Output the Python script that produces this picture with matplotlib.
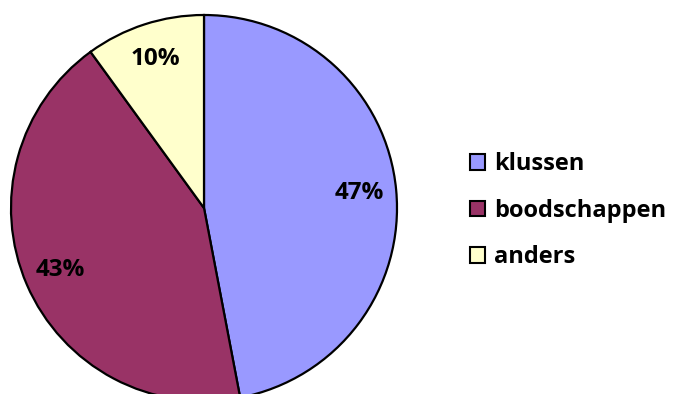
import matplotlib
matplotlib.use('Agg')
import matplotlib.pyplot as plt

labels = ['klussen', 'boodschappen', 'anders']
shares = [47, 43, 10]
colors = ['#9999FF', '#993366', '#FFFFCC']

plt.rcParams['font.family'] = ['Open Sans', 'DejaVu Sans']

fig = plt.figure(figsize=(6.76, 3.94), dpi=100)
ax = fig.add_axes([0, 0, 1, 1])
ax.set_xlim(0, 676)
ax.set_ylim(0, 394)
ax.set_aspect('equal')
ax.axis('off')

wedges, texts, autotexts = ax.pie(
    shares, colors=colors, startangle=90, counterclock=False,
    center=(204, 186), radius=193, autopct='%d%%', pctdistance=0.81,
    wedgeprops=dict(edgecolor='black', linewidth=1.6),
    textprops=dict(fontsize=17.5, fontweight='bold', color='black'))
ax.set_xlim(0, 676)
ax.set_ylim(0, 394)

leg = fig.legend(wedges, labels, loc='center left', bbox_to_anchor=(0.664, 0.465),
                 frameon=False, handlelength=0.64, handleheight=0.64,
                 handletextpad=0.38, labelspacing=0.95,
                 prop=dict(weight='bold', size=17))
for h in leg.get_patches():
    h.set_linewidth(1.5)

fig.savefig('out.png', dpi=100)
